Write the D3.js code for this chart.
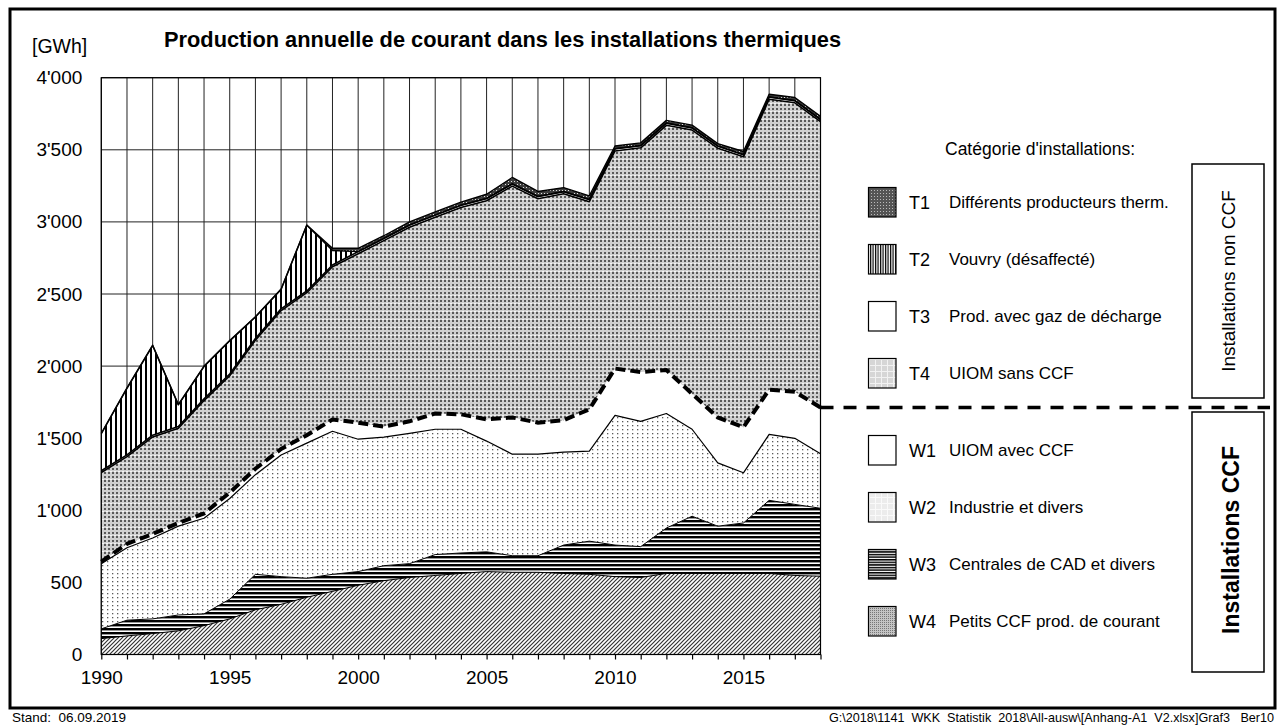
<!DOCTYPE html>
<html>
<head>
<meta charset="utf-8">
<script src="https://cdn.jsdelivr.net/npm/d3@7"></script>
<style>
  html, body { margin: 0; padding: 0; background: #fff; }
  svg { display: block; font-family: "Liberation Sans", Arial, sans-serif; }
</style>
</head>
<body>
<svg id="chart" width="1278" height="725"></svg>
<script>
// ---------------- DATA ----------------
const years = [1990,1991,1992,1993,1994,1995,1996,1997,1998,1999,2000,2001,2002,2003,2004,2005,2006,2007,2008,2009,2010,2011,2012,2013,2014,2015,2016,2017,2018];
// CCF installations (GWh)
const W4 = [110,129,145,164,200,247,310,348,397,438,480,512,534,548,562,575,570,570,562,556,540,534,562,562,562,562,562,548,543];
const W3 = [68,109,102,110,82,137,246,192,132,118,95,104,96,145,142,137,115,115,197,230,219,214,315,397,328,350,507,493,471];
const W2 = [452,502,561,616,663,698,691,844,937,992,918,891,904,869,858,768,704,704,644,625,899,869,794,603,439,348,457,458,378];
const W1 = [14,27,28,22,33,41,41,41,55,82,115,74,83,109,104,150,255,219,222,289,325,342,302,246,315,316,310,323,321];
// non-CCF installations (GWh)
const T4 = [618,605,673,657,783,810,892,960,988,1059,1171,1289,1346,1361,1434,1517,1604,1553,1570,1440,1509,1555,1697,1829,1867,1875,2015,2004,1982];
const T3 = [12,12,12,12,12,12,12,12,12,12,15,15,15,15,15,15,15,15,15,15,15,15,15,15,15,15,15,15,15];
const T2 = [257,462,621,150,224,230,148,134,455,101,0,0,0,0,0,0,0,0,0,0,0,0,0,0,0,0,0,0,0];
const T1 = [3,3,3,3,3,3,3,3,3,15,23,19,22,22,22,30,45,35,28,25,19,19,19,19,17,22,19,22,22];

const yTicks = [0,500,1000,1500,2000,2500,3000,3500,4000];
const xTickLabels = [1990,1995,2000,2005,2010,2015];
const seriesKeys = ["W4","W3","W2","W1","T4","T3","T2","T1"];
const legendCodes = ["T1","T2","T3","T4","W1","W2","W3","W4"];
const legendTexts = ["Différents producteurs therm.","Vouvry (désaffecté)","Prod. avec gaz de décharge","UIOM sans CCF","UIOM avec CCF","Industrie et divers","Centrales de CAD et divers","Petits CCF prod. de courant"];

const titleText = "Production annuelle de courant dans les installations thermiques";
const unitText = "[GWh]";
const legendTitle = "Catégorie d'installations:";
const boxNonCCF = "Installations non CCF";
const boxCCF = "Installations CCF";
const footLeft = "Stand:  06.09.2019";
const footRight = "G:\\2018\\1141  WKK  Statistik  2018\\All-ausw\\[Anhang-A1  V2.xlsx]Graf3   Ber10";

// ---------------- SETUP ----------------
const seriesMap = {W4, W3, W2, W1, T4, T3, T2, T1};
const table = years.map((yr, i) => {
  const row = {year: yr};
  seriesKeys.forEach(k => row[k] = seriesMap[k][i]);
  return row;
});
const stacked = d3.stack().keys(seriesKeys)(table);
const byKey = {};
stacked.forEach(s => byKey[s.key] = s);

const svg = d3.select("#chart");
const plot = {left: 101.3, right: 820.5, top: 77.7, bottom: 654.5};
const x = d3.scaleLinear().domain([1990, 2018]).range([plot.left, plot.right]);
const y = d3.scaleLinear().domain([0, 4000]).range([plot.bottom, plot.top]);
const fmt = d3.formatLocale({decimal: ".", thousands: "'", grouping: [3], currency: ["", ""]}).format(",");

// ---------------- PATTERNS ----------------
const defs = svg.append("defs");
function pat(id, w, h, bg) {
  const p = defs.append("pattern").attr("id", id).attr("patternUnits", "userSpaceOnUse")
    .attr("width", w).attr("height", h);
  p.append("rect").attr("width", w).attr("height", h).attr("fill", bg);
  return p;
}
// plot patterns
let p = pat("pW4", 4, 4, "#fff");
p.append("path").attr("d", "M-1,1 L1,-1 M0,4 L4,0 M3,5 L5,3").attr("stroke", "#333").attr("stroke-width", 1.2);
p = pat("pW3", 4, 4, "#fff");
p.append("rect").attr("y", 0).attr("width", 4).attr("height", 2.4).attr("fill", "#000");
p = pat("pW2", 5, 4, "#fff");
p.append("rect").attr("x", 2).attr("y", 1).attr("width", 1.3).attr("height", 1.3).attr("fill", "#5a5a5a");
pat("pW1", 4, 4, "#fff");
p = pat("pT4", 4, 8, "#d0d0d0");
p.append("rect").attr("x", 0).attr("y", 0).attr("width", 2).attr("height", 2).attr("fill", "#5a5a5a");
p.append("rect").attr("x", 0).attr("y", 4).attr("width", 2).attr("height", 2).attr("fill", "#5a5a5a");
p.append("rect").attr("x", 2).attr("y", 7).attr("width", 2).attr("height", 1).attr("fill", "#f4f4f4");
pat("pT3", 4, 4, "#fff");
p = pat("pT2", 5, 4, "#fff");
p.append("rect").attr("x", 0).attr("width", 2).attr("height", 4).attr("fill", "#000");
p = pat("pT1", 3, 3, "#3c3c3c");
p.append("rect").attr("x", 1).attr("y", 1).attr("width", 1).attr("height", 1).attr("fill", "#e0e0e0");

// legend patterns (scaled-down look)
p = pat("lT1", 3, 3, "#555");
p.append("rect").attr("x", 1).attr("y", 1).attr("width", 1).attr("height", 1).attr("fill", "#bbb");
p = pat("lT2", 2.5, 4, "#fff");
p.append("rect").attr("width", 1.2).attr("height", 4).attr("fill", "#000");
pat("lT3", 4, 4, "#fff");
p = pat("lT4", 6, 6, "#d6d6d6");
p.append("rect").attr("x", 0).attr("y", 5).attr("width", 6).attr("height", 1).attr("fill", "#f2f2f2");
p.append("rect").attr("x", 5).attr("y", 0).attr("width", 1).attr("height", 6).attr("fill", "#f2f2f2");
pat("lW1", 4, 4, "#fff");
p = pat("lW2", 6, 6, "#ececec");
p.append("rect").attr("x", 0).attr("y", 5).attr("width", 6).attr("height", 1).attr("fill", "#fafafa");
p.append("rect").attr("x", 5).attr("y", 0).attr("width", 1).attr("height", 6).attr("fill", "#fafafa");
p = pat("lW3", 4, 2.6, "#fff");
p.append("rect").attr("width", 4).attr("height", 1.5).attr("fill", "#000");
p = pat("lW4", 2, 2, "#c4c4c4");
p.append("rect").attr("width", 1).attr("height", 1).attr("fill", "#777");

// ---------------- FRAME ----------------
svg.append("rect").attr("x", 10).attr("y", 9).attr("width", 1265).attr("height", 699)
  .attr("fill", "#fff").attr("stroke", "#000").attr("stroke-width", 3);

// gridlines
const g = svg.append("g");
g.selectAll("line.vg").data(years).join("line").attr("class", "vg")
  .attr("x1", d => x(d)).attr("x2", d => x(d)).attr("y1", y(0)).attr("y2", y(4000))
  .attr("stroke", "#222").attr("stroke-width", 1);
g.selectAll("line.hg").data(yTicks).join("line").attr("class", "hg")
  .attr("x1", x(1990)).attr("x2", x(2018)).attr("y1", d => y(d)).attr("y2", d => y(d))
  .attr("stroke", "#222").attr("stroke-width", 1);

// ---------------- AREAS ----------------
const area = d3.area().x(d => x(d.data.year)).y0(d => y(d[0])).y1(d => y(d[1]));
const topLine = d3.line().x(d => x(d.data.year)).y(d => y(d[1]));
seriesKeys.forEach(k => {
  g.append("path").datum(byKey[k]).attr("d", area).attr("fill", `url(#p${k})`).attr("stroke", "none");
});
const lineStyles = {
  W4: {w: 1, c: "#000"},
  W3: {w: 1, c: "#000"},
  W2: {w: 1.2, c: "#000"},
  T4: {w: 1.6, c: "#000"},
  T3: {w: 1.6, c: "#000"},
  T2: {w: 1.4, c: "#000"},
  T1: {w: 1.4, c: "#000"}
};
Object.keys(lineStyles).forEach(k => {
  g.append("path").datum(byKey[k]).attr("d", topLine).attr("fill", "none")
    .attr("stroke", lineStyles[k].c).attr("stroke-width", lineStyles[k].w).attr("stroke-linejoin", "round");
});
// CCF boundary (dashed)
g.append("path").datum(byKey.W1).attr("d", topLine).attr("fill", "none")
  .attr("stroke", "#000").attr("stroke-width", 4).attr("stroke-dasharray", "10,5");
const lastW1 = byKey.W1[byKey.W1.length - 1][1];
svg.append("line").attr("x1", x(2018)).attr("x2", 1270).attr("y1", y(lastW1)).attr("y2", y(lastW1))
  .attr("stroke", "#000").attr("stroke-width", 3.5).attr("stroke-dasharray", "13,10");

// plot border
g.append("rect").attr("x", plot.left).attr("y", plot.top).attr("width", plot.right - plot.left)
  .attr("height", plot.bottom - plot.top).attr("fill", "none").attr("stroke", "#000").attr("stroke-width", 1.2);

// ---------------- AXES ----------------
const xAxis = d3.axisBottom(x).tickValues(years).tickSize(5).tickFormat(d => xTickLabels.includes(d) ? d : "");
const gx = svg.append("g").attr("transform", `translate(0,${plot.bottom})`).call(xAxis);
gx.select(".domain").remove();
gx.selectAll(".tick line").attr("stroke", "#000").attr("stroke-width", 1.2);
gx.selectAll(".tick text").attr("font-size", 19).attr("fill", "#000").attr("dy", "1.15em")
  .attr("font-family", "Liberation Sans, Arial, sans-serif");

const yAxis = d3.axisLeft(y).tickValues(yTicks).tickSize(0).tickPadding(19).tickFormat(d => fmt(d));
const gy = svg.append("g").attr("transform", `translate(${plot.left},0)`).call(yAxis);
gy.select(".domain").remove();
gy.selectAll(".tick text").attr("font-size", 19).attr("fill", "#000")
  .attr("font-family", "Liberation Sans, Arial, sans-serif");

// ---------------- TEXTS ----------------
svg.append("text").attr("x", 32).attr("y", 53).attr("font-size", 19.5).text(unitText);
svg.append("text").attr("x", 164).attr("y", 47).attr("font-size", 21.8).attr("font-weight", "bold").text(titleText);
svg.append("text").attr("x", 945).attr("y", 155).attr("font-size", 17.5).text(legendTitle);

// ---------------- LEGEND ----------------
const legendY = [202, 259, 316, 373, 450, 507, 564, 621];
const lg = svg.append("g");
legendCodes.forEach((c, i) => {
  const cy = legendY[i];
  lg.append("rect").attr("x", 868.5).attr("y", cy - 14.5).attr("width", 27.5).attr("height", 29.5)
    .attr("fill", `url(#l${c})`).attr("stroke", "#000").attr("stroke-width", 1.2);
  lg.append("text").attr("x", 909).attr("y", cy + 6.5).attr("font-size", 18).text(c);
  lg.append("text").attr("x", 949).attr("y", cy + 6).attr("font-size", 17).text(legendTexts[i]);
});

// ---------------- SIDE BOXES ----------------
svg.append("rect").attr("x", 1192).attr("y", 164).attr("width", 72).attr("height", 234)
  .attr("fill", "#fff").attr("stroke", "#000").attr("stroke-width", 1.5);
svg.append("text").attr("transform", `translate(1235,281) rotate(-90)`).attr("text-anchor", "middle")
  .attr("font-size", 19).text(boxNonCCF);
svg.append("rect").attr("x", 1192).attr("y", 412).attr("width", 72).attr("height", 260)
  .attr("fill", "#fff").attr("stroke", "#000").attr("stroke-width", 1.5);
svg.append("text").attr("transform", `translate(1239,540) rotate(-90)`).attr("text-anchor", "middle")
  .attr("font-size", 23).attr("font-weight", "bold").text(boxCCF);

// ---------------- FOOTER ----------------
svg.append("text").attr("x", 12).attr("y", 722).attr("font-size", 13.5).style("white-space", "pre").text(footLeft);
svg.append("text").attr("x", 1274).attr("y", 722).attr("text-anchor", "end").attr("font-size", 12.6)
  .style("white-space", "pre").text(footRight);
</script>
</body>
</html>
